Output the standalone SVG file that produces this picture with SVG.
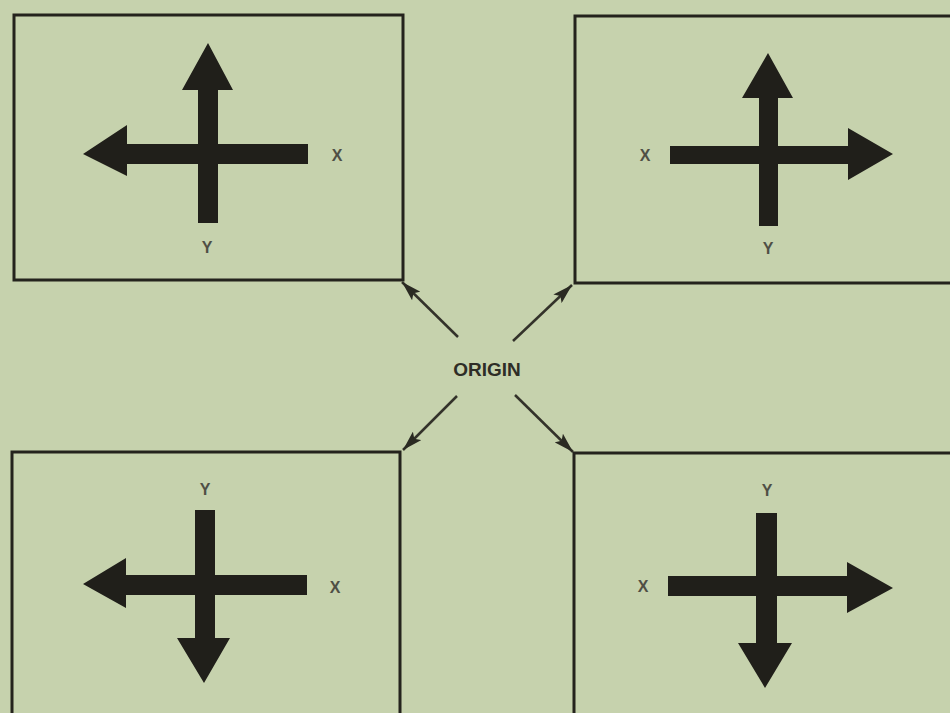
<svg xmlns="http://www.w3.org/2000/svg" width="950" height="713" viewBox="0 0 950 713">
<style>
.frame{fill:none;stroke:#24231d;stroke-width:3}
.axis{fill:#201f1a}
.lbl{font-family:"Liberation Sans",Arial,sans-serif;font-weight:bold;font-size:16px;fill:#4f4f45;text-anchor:middle;dominant-baseline:central}
.org{font-family:"Liberation Sans",Arial,sans-serif;font-weight:bold;font-size:19px;fill:#2e2d26;text-anchor:middle;dominant-baseline:central}
.conn{stroke:#33322a;stroke-width:2.5;fill:none;marker-end:url(#ah)}
</style>
<defs>
<marker id="ah" viewBox="0 0 20 12" refX="20" refY="6" markerWidth="20" markerHeight="12" markerUnits="userSpaceOnUse" orient="auto">
<path d="M0,0 L20,6 L0,12 L4,6 Z" fill="#2a2a22"/>
</marker>
</defs>
<rect x="0" y="0" width="950" height="713" fill="#c6d2ad"/>

<g id="box-top-left">
<rect class="frame" x="14" y="15" width="389" height="265"/>
<path class="axis" d="M198,223 L198,90 L182,90 L208,43 L233,90 L218,90 L218,223 Z"/>
<path class="axis" d="M308,144 L127,144 L127,125 L83,154 L127,176 L127,164 L308,164 Z"/>
<text class="lbl" x="337" y="155">X</text>
<text class="lbl" x="207" y="247">Y</text>
</g>

<g id="box-top-right">
<rect class="frame" x="575" y="16" width="390" height="267"/>
<path class="axis" d="M759,226 L759,98 L742,98 L768,53 L793,98 L778,98 L778,226 Z"/>
<path class="axis" d="M670,146 L848,146 L848,128 L893,154 L848,180 L848,164 L670,164 Z"/>
<text class="lbl" x="645" y="155">X</text>
<text class="lbl" x="768" y="248">Y</text>
</g>

<g id="box-bottom-left">
<rect class="frame" x="12" y="452" width="388" height="280"/>
<path class="axis" d="M195,510 L215,510 L215,638 L230,638 L204,683 L177,638 L195,638 Z"/>
<path class="axis" d="M307,575 L126,575 L126,558 L83,584 L126,608 L126,595 L307,595 Z"/>
<text class="lbl" x="335" y="587">X</text>
<text class="lbl" x="205" y="489">Y</text>
</g>

<g id="box-bottom-right">
<rect class="frame" x="574" y="453" width="400" height="280"/>
<path class="axis" d="M756,513 L777,513 L777,643 L792,643 L765,688 L738,643 L756,643 Z"/>
<path class="axis" d="M668,576 L847,576 L847,562 L893,588 L847,613 L847,596 L668,596 Z"/>
<text class="lbl" x="643" y="586">X</text>
<text class="lbl" x="767" y="490">Y</text>
</g>

<g id="origin">
<text class="org" x="487" y="369">ORIGIN</text>
</g>

<g id="connectors">
<line class="conn" x1="458" y1="337" x2="402" y2="282"/>
<line class="conn" x1="513" y1="341" x2="572" y2="285"/>
<line class="conn" x1="457" y1="396" x2="403" y2="450"/>
<line class="conn" x1="515" y1="395" x2="573" y2="452"/>
</g>
</svg>
